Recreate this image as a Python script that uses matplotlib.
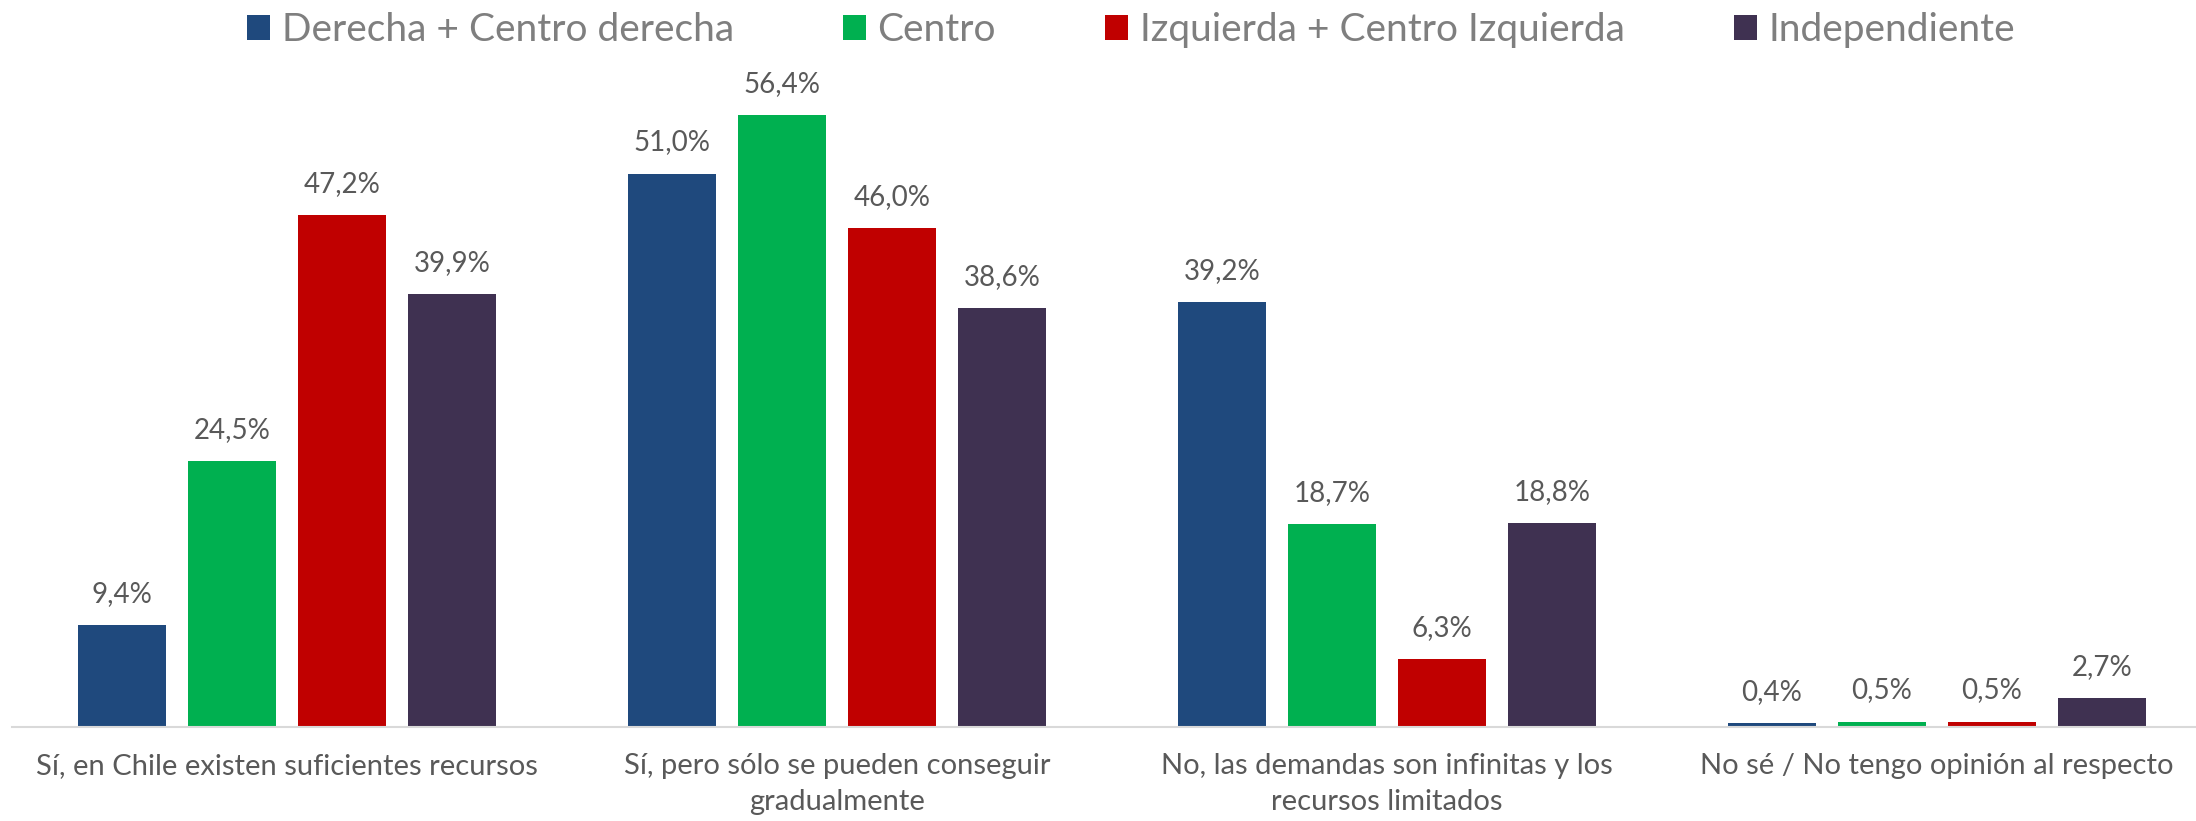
import numpy as np
import matplotlib.pyplot as plt

plt.rcParams['font.family'] = ['Lato', 'DejaVu Sans']

categories = ['Sí, en Chile existen suficientes recursos',
              'Sí, pero sólo se pueden conseguir\ngradualmente',
              'No, las demandas son infinitas y los\nrecursos limitados',
              'No sé / No tengo opinión al respecto']
series = ['Derecha + Centro derecha', 'Centro',
          'Izquierda + Centro Izquierda', 'Independiente']
derecha = [9.4, 51.0, 39.2, 0.4]
centro = [24.5, 56.4, 18.7, 0.5]
izquierda = [47.2, 46.0, 6.3, 0.5]
independiente = [39.9, 38.6, 18.8, 2.7]

colors = ['#1F497D', '#00B050', '#C00000', '#3F3151']
values = [derecha, centro, izquierda, independiente]

fig = plt.figure(figsize=(21.96, 8.21), dpi=100)
ax = fig.add_axes([0.00546, 0.1145, 1.0018, 0.793])

x = np.arange(len(categories))
w = 0.2
for i, (name, vals, c) in enumerate(zip(series, values, colors)):
    pos = x + (i - 1.5) * w
    bars = ax.bar(pos, vals, width=0.16, color=c, label=name)
    for b, v in zip(bars, vals):
        ax.annotate('{:.1f}%'.format(v).replace('.', ','),
                    (b.get_x() + b.get_width() / 2, v),
                    xytext=(0, 13), textcoords='offset points',
                    ha='center', va='bottom', fontsize=20, color='#595959')

ax.set_xlim(-0.5, 3.5)
ax.set_ylim(0, 60)
ax.set_yticks([])
ax.set_xticks(x)
ax.set_xticklabels(categories, fontsize=21, color='#595959', linespacing=1.45)
ax.tick_params(axis='x', length=0, pad=19)
for s in ['top', 'right', 'left']:
    ax.spines[s].set_visible(False)
ax.spines['bottom'].set_color('#D9D9D9')
ax.spines['bottom'].set_linewidth(1.5)

leg = fig.legend(loc='center', bbox_to_anchor=(0.515, 0.963), ncol=4,
                 frameon=False, fontsize=28, handlelength=0.6, handleheight=0.6,
                 handletextpad=0.3, columnspacing=2.8)
for t in leg.get_texts():
    t.set_color('#7F7F7F')

plt.savefig('out.png')
